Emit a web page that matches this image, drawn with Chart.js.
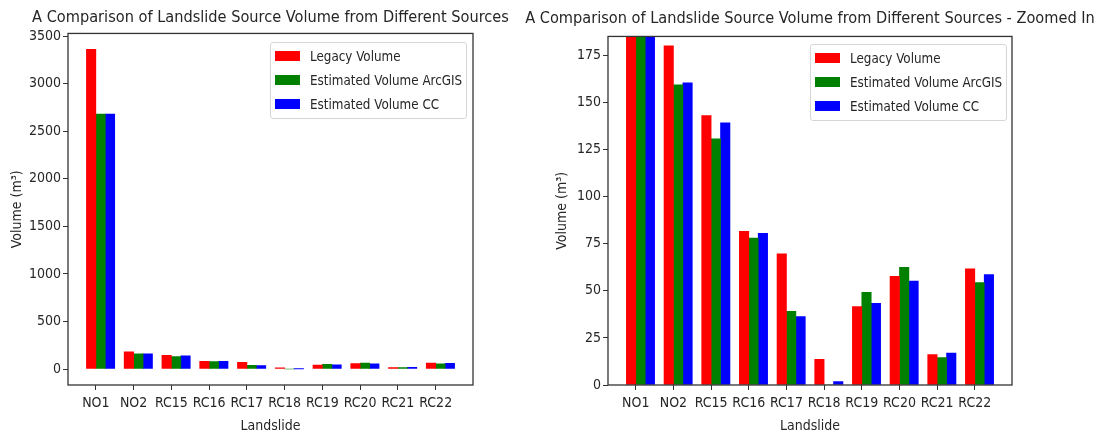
<!DOCTYPE html>
<html>
<head>
<meta charset="utf-8">
<script src="https://cdn.jsdelivr.net/npm/chart.js@4"></script>
<style>
  html, body { margin: 0; padding: 0; background: #fff; }
  #wrap { position: relative; width: 1101px; height: 436px; overflow: hidden; }
  #wrap canvas { position: absolute; top: 0; }
  .legend {
    position: absolute; width: 197px; height: 77px; box-sizing: border-box;
    border: 1px solid #d6d6d6; border-radius: 3px; background: rgba(255,255,255,0.8);
    font-family: "DejaVu Sans Condensed", "DejaVu Sans", sans-serif; font-size: 13.3px; color: #262626;
  }
  .legend .row { position: absolute; left: 4px; height: 16px; line-height: 16px; white-space: nowrap; }
  .legend .box { display: inline-block; width: 25px; height: 10px; vertical-align: middle; margin-right: 10px; margin-top: -2px; }
</style>
</head>
<body>
<div id="wrap">
  <canvas id="full" width="541" height="436" style="left:0px"></canvas>
  <canvas id="zoom" width="580" height="436" style="left:520px"></canvas>
  <div class="legend" id="legFull" style="left:270px; top:42px;"></div>
  <div class="legend" id="legZoom" style="left:810px; top:44px;"></div>
</div>
<script>
// data
const categories = ["NO1", "NO2", "RC15", "RC16", "RC17", "RC18", "RC19", "RC20", "RC21", "RC22"];
const legacyVolume = [3360, 180, 143, 81.5, 69.6, 13.6, 41.6, 57.7, 16.1, 61.6];
const arcgisVolume = [2680, 159.3, 130.7, 78, 39.1, 0, 49.2, 62.5, 14.5, 54.3];
const ccVolume = [2680, 160.4, 139.2, 80.5, 36.3, 1.8, 43.3, 55.2, 17.0, 58.6];
const seriesLabels = ["Legacy Volume", "Estimated Volume ArcGIS", "Estimated Volume CC"];
const seriesColors = ["#ff0000", "#008000", "#0000ff"];
const yTicksFull = [0, 500, 1000, 1500, 2000, 2500, 3000, 3500];
const yTicksZoom = [0, 25, 50, 75, 100, 125, 150, 175];
const zoomTop = 185;

const FONT = "'DejaVu Sans Condensed', 'DejaVu Sans', sans-serif";
const TEXT = "#262626";
const AXIS = "#333333";
const barWidth = 0.25;

// each series sits one bar width to the right of the previous one,
// the tick lands on the edge between the first and second bar
function makeDatasets() {
  const all = [legacyVolume, arcgisVolume, ccVolume];
  return all.map((vals, k) => ({
    label: seriesLabels[k],
    data: vals.map((v, i) => ({ x: i + (k - 0.5) * barWidth, y: v })),
    backgroundColor: seriesColors[k],
    borderWidth: 0,
    grouped: false,
    barPercentage: 1,
    categoryPercentage: 1,
  }));
}

const frame = {
  id: "frame",
  afterDatasetsDraw(chart) {
    const { ctx, chartArea: a } = chart;
    ctx.save();
    ctx.strokeStyle = AXIS;
    ctx.lineWidth = 1.3;
    ctx.strokeRect(a.left, a.top, a.right - a.left, a.bottom - a.top);
    ctx.restore();
  },
};

function makeChart(id, opts) {
  const span = categories.length - 1 + 3 * barWidth;
  const xMin = -barWidth - 0.05 * span;
  const xMax = categories.length - 1 + 2 * barWidth + 0.05 * span;
  return new Chart(document.getElementById(id), {
    type: "bar",
    data: { datasets: makeDatasets() },
    plugins: [frame],
    options: {
      responsive: false,
      animation: false,
      devicePixelRatio: 1,
      layout: { padding: 0 },
      plugins: {
        legend: { display: false },
        tooltip: { enabled: false },
        title: {
          display: true,
          text: opts.title,
          color: TEXT,
          font: { family: FONT, size: 16.2, weight: "normal", lineHeight: 1.2 },
          padding: { top: opts.titleTop, bottom: opts.titleBottom },
        },
      },
      scales: {
        x: {
          type: "linear",
          min: xMin,
          max: xMax,
          offset: false,
          grid: { display: true, drawOnChartArea: false, drawTicks: true, tickLength: 5, color: AXIS, offset: false },
          border: { display: false },
          afterBuildTicks: (s) => { s.ticks = categories.map((c, i) => ({ value: i })); },
          afterFit: (s) => { s.height = 51; },
          ticks: {
            autoSkip: false, maxRotation: 0, padding: 5, color: TEXT,
            font: { family: FONT, size: 14 },
            callback: (v) => categories[v],
          },
          title: {
            display: true, text: "Landslide", color: TEXT,
            font: { family: FONT, size: 14 }, padding: { top: 0, bottom: 1 },
          },
        },
        y: {
          min: opts.yMin,
          max: opts.yMax,
          grid: { display: true, drawOnChartArea: false, drawTicks: true, tickLength: 5, color: AXIS },
          border: { display: false },
          afterBuildTicks: (s) => { s.ticks = opts.yTicks.map((v) => ({ value: v })); },
          afterFit: (s) => { s.width = opts.axisWidth; },
          ticks: {
            padding: 2, color: TEXT,
            font: { family: FONT, size: 14 },
            callback: (v) => String(v),
          },
          title: {
            display: true, text: "Volume (m³)", color: TEXT,
            font: { family: FONT, size: 14 }, padding: { top: opts.yTitlePad, bottom: 0 },
          },
        },
        // empty strip on the right so the title centres over the plot like matplotlib
        spacer: {
          type: "linear",
          position: "right",
          grid: { display: false },
          border: { display: false },
          ticks: { display: false },
          afterFit: (s) => { s.width = opts.rightGap; },
        },
      },
    },
  });
}

const fullMax = Math.max(...legacyVolume, ...arcgisVolume, ...ccVolume);

makeChart("full", {
  title: "A Comparison of Landslide Source Volume from Different Sources",
  rightGap: 541 - 473, axisWidth: 68, yTitlePad: 9,
  titleTop: 8, titleBottom: 6,
  yMin: -0.05 * fullMax, yMax: 1.05 * fullMax, yTicks: yTicksFull,
});

makeChart("zoom", {
  title: "A Comparison of Landslide Source Volume from Different Sources - Zoomed In",
  rightGap: 580 - 492, axisWidth: 88, yTitlePad: 34,
  titleTop: 9, titleBottom: 8,
  yMin: 0, yMax: zoomTop, yTicks: yTicksZoom,
});

// legends drawn as html boxes inside the plot areas
["legFull", "legZoom"].forEach((id) => {
  const el = document.getElementById(id);
  seriesLabels.forEach((lab, k) => {
    const row = document.createElement("div");
    row.className = "row";
    row.style.top = (6 + k * 24) + "px";
    row.innerHTML = '<span class="box" style="background:' + seriesColors[k] + '"></span>' + lab;
    el.appendChild(row);
  });
});
</script>
</body>
</html>
